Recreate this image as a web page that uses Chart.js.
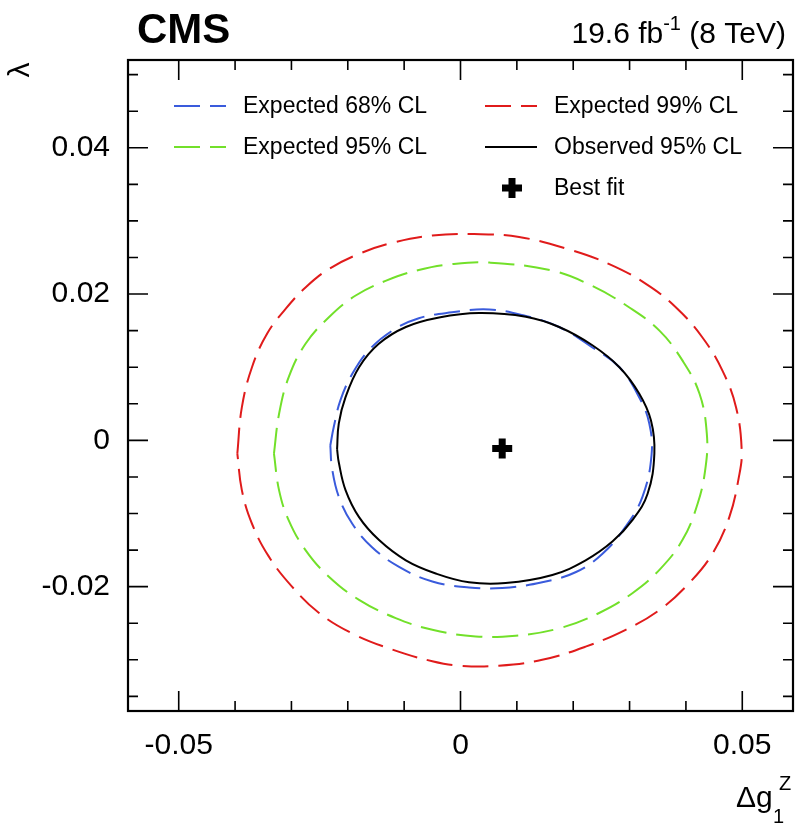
<!DOCTYPE html>
<html>
<head>
<meta charset="utf-8">
<script src="https://cdn.jsdelivr.net/npm/chart.js@4.4.0/dist/chart.umd.min.js"></script>
<style>
  html, body { margin: 0; padding: 0; background: #fff; }
</style>
</head>
<body>
<canvas id="chart" width="796" height="832"></canvas>
<script>
// axis ranges and ticks
const xMin = -0.059, xMax = 0.059;
const yMin = -0.037, yMax = 0.052;
const xMajorTicks = [-0.05, 0, 0.05];
const xMinorTicks = [-0.04, -0.03, -0.02, -0.01, 0.01, 0.02, 0.03, 0.04];
const yMajorTicks = [-0.02, 0, 0.02, 0.04];
const yMinorTicks = [-0.035, -0.03, -0.025, -0.015, -0.01, -0.005, 0.005, 0.01, 0.015,
                     0.025, 0.03, 0.035, 0.045, 0.05];
const xTickLabels = ["-0.05", "0", "0.05"];
const yTickLabels = ["-0.02", "0", "0.02", "0.04"];

// contours: [delta g1Z, lambda]
const expected68 = [
  [-0.0231, -0.0007], [-0.0225, 0.0018], [-0.0213, 0.0055], [-0.0192, 0.0091], [-0.0163, 0.0123],
  [-0.0121, 0.0150], [-0.0074, 0.0167], [-0.0015, 0.0175], [0.0051, 0.0179], [0.0116, 0.0170],
  [0.0175, 0.0155], [0.0234, 0.0127], [0.0282, 0.0100], [0.0317, 0.0059], [0.0335, 0.0023],
  [0.0339, -0.0020], [0.0323, -0.0077], [0.0293, -0.0118], [0.0252, -0.0155],
  [0.0205, -0.0180], [0.0145, -0.0194], [0.0074, -0.0202], [0.0015, -0.0201], [-0.0050, -0.0193],
  [-0.0109, -0.0173], [-0.0157, -0.0146], [-0.0192, -0.0114], [-0.0216, -0.0077], [-0.0228, -0.0038]
];
const expected95 = [
  [-0.0331, -0.0018], [-0.0322, 0.0036], [-0.0305, 0.0086], [-0.0275, 0.0132], [-0.0234, 0.0168],
  [-0.0186, 0.0198], [-0.0133, 0.0218], [-0.0074, 0.0233], [-0.0015, 0.0241], [0.0051, 0.0243],
  [0.0163, 0.0232], [0.0234, 0.0211], [0.0299, 0.0182], [0.0353, 0.0150],
  [0.0394, 0.0109], [0.0424, 0.0064], [0.0437, 0.0010], [0.0435, -0.0036],
  [0.0421, -0.0086], [0.0394, -0.0136], [0.0353, -0.0177], [0.0305, -0.0209], [0.0246, -0.0236],
  [0.0175, -0.0257], [0.0098, -0.0267], [0.0027, -0.0268], [-0.0050, -0.0259], [-0.0115, -0.0243],
  [-0.0180, -0.0218], [-0.0234, -0.0186], [-0.0275, -0.0150], [-0.0305, -0.0109], [-0.0322, -0.0068]
];
const expected99 = [
  [-0.0396, -0.0018], [-0.0388, 0.0045], [-0.0370, 0.0100], [-0.0343, 0.0146], [-0.0310, 0.0180],
  [-0.0275, 0.0209], [-0.0234, 0.0234], [-0.0180, 0.0255], [-0.0121, 0.0270], [-0.0050, 0.0280],
  [0.0024, 0.0282], [0.0104, 0.0278], [0.0193, 0.0261], [0.0264, 0.0241], [0.0329, 0.0214],
  [0.0382, 0.0182], [0.0429, 0.0141], [0.0465, 0.0095], [0.0489, 0.0045], [0.0499, -0.0014],
  [0.0494, -0.0050], [0.0477, -0.0105], [0.0447, -0.0155], [0.0406, -0.0195], [0.0353, -0.0232],
  [0.0293, -0.0259], [0.0222, -0.0282], [0.0145, -0.0300], [0.0068, -0.0308], [-0.0003, -0.0308],
  [-0.0050, -0.0302], [-0.0121, -0.0286], [-0.0192, -0.0264], [-0.0251, -0.0236], [-0.0299, -0.0200],
  [-0.0340, -0.0159], [-0.0370, -0.0114], [-0.0388, -0.0068]
];
const observed95 = [
  [-0.0219, -0.0012], [-0.0216, 0.0023], [-0.0204, 0.0059], [-0.0180, 0.0100], [-0.0145, 0.0132],
  [-0.0097, 0.0155], [-0.0038, 0.0168], [0.0033, 0.0174], [0.0116, 0.0169],
  [0.0175, 0.0155], [0.0234, 0.0130], [0.0282, 0.0100], [0.0317, 0.0064], [0.0338, 0.0027],
  [0.0344, -0.0018], [0.0332, -0.0073], [0.0305, -0.0109], [0.0270, -0.0138],
  [0.0222, -0.0164], [0.0163, -0.0184], [0.0080, -0.0195], [0.0015, -0.0194], [-0.0044, -0.0182],
  [-0.0097, -0.0164], [-0.0145, -0.0136], [-0.0180, -0.0105], [-0.0204, -0.0068], [-0.0216, -0.0030]
];
const bestFit = [[0.0074, -0.0011]];

const FONT = '"Liberation Sans", Arial, Helvetica, sans-serif';
const blue = "#3a5bdc", green = "#72e02a", red = "#e01b1b";
const dash = [26, 10];

const toXY = arr => arr.map(p => ({ x: p[0], y: p[1] }));
const closed = arr => toXY(arr.concat([arr[0]]));

function contour(label, pts, color, dashed, order) {
  return {
    label: label,
    data: closed(pts),
    showLine: true,
    borderColor: color,
    borderWidth: 2,
    borderDash: dashed ? dash : [],
    pointRadius: 0,
    tension: 0.4,
    fill: false,
    order: order
  };
}

// frame with inward ticks, titles, legend
const decorations = {
  id: "decorations",
  afterDraw(chart) {
    const { ctx, chartArea: a, scales: { x, y } } = chart;
    ctx.save();
    ctx.strokeStyle = "#000";
    ctx.lineWidth = 1.6;
    ctx.beginPath();
    const tx = (v, len) => {
      const px = x.getPixelForValue(v);
      ctx.moveTo(px, a.bottom); ctx.lineTo(px, a.bottom - len);
      ctx.moveTo(px, a.top); ctx.lineTo(px, a.top + len);
    };
    const ty = (v, len) => {
      const py = y.getPixelForValue(v);
      ctx.moveTo(a.left, py); ctx.lineTo(a.left + len, py);
      ctx.moveTo(a.right, py); ctx.lineTo(a.right - len, py);
    };
    xMajorTicks.forEach(v => tx(v, 20));
    xMinorTicks.forEach(v => tx(v, 10));
    yMajorTicks.forEach(v => ty(v, 20));
    yMinorTicks.forEach(v => ty(v, 10));
    ctx.stroke();
    ctx.lineWidth = 2.2;
    ctx.strokeRect(a.left, a.top, a.right - a.left, a.bottom - a.top);

    ctx.fillStyle = "#000";
    // CMS label
    ctx.font = "bold 42px " + FONT;
    ctx.textAlign = "left";
    ctx.textBaseline = "alphabetic";
    ctx.fillText("CMS", 137, 43);

    // luminosity label, drawn right to left
    let right = 786;
    ctx.textAlign = "right";
    ctx.font = "30px " + FONT;
    ctx.fillText(" (8 TeV)", right, 43);
    right -= ctx.measureText(" (8 TeV)").width;
    ctx.font = "20px " + FONT;
    ctx.fillText("-1", right, 30);
    right -= ctx.measureText("-1").width;
    ctx.font = "30px " + FONT;
    ctx.fillText("19.6 fb", right, 43);

    // axis titles
    ctx.textAlign = "left";
    ctx.font = "30px " + FONT;
    ctx.fillText("\u0394g", 736, 807);
    ctx.font = "20px " + FONT;
    ctx.fillText("Z", 779, 790);
    ctx.fillText("1", 773, 823);

    ctx.save();
    ctx.translate(21, 70);
    ctx.rotate(-Math.PI / 2);
    ctx.textAlign = "center";
    ctx.textBaseline = "middle";
    ctx.font = "30px " + FONT;
    ctx.fillText("\u03bb", 0, 0);
    ctx.restore();

    // legend
    const items = [
      { text: "Expected 68% CL", color: blue, dashed: true, x: 174, y: 106 },
      { text: "Expected 95% CL", color: green, dashed: true, x: 174, y: 147 },
      { text: "Expected 99% CL", color: red, dashed: true, x: 485, y: 106 },
      { text: "Observed 95% CL", color: "#000", dashed: false, x: 485, y: 147 }
    ];
    ctx.font = "23px " + FONT;
    ctx.textBaseline = "middle";
    items.forEach(it => {
      ctx.strokeStyle = it.color;
      ctx.lineWidth = 2;
      ctx.setLineDash(it.dashed ? dash : []);
      ctx.beginPath();
      ctx.moveTo(it.x, it.y);
      ctx.lineTo(it.x + 52, it.y);
      ctx.stroke();
      ctx.fillText(it.text, it.x + 69, it.y + 1);
    });
    ctx.setLineDash([]);
    ctx.strokeStyle = "#000";
    ctx.lineWidth = 7;
    ctx.beginPath();
    ctx.moveTo(502, 188); ctx.lineTo(522, 188);
    ctx.moveTo(512, 178); ctx.lineTo(512, 198);
    ctx.stroke();
    ctx.fillText("Best fit", 554, 189);
    ctx.restore();
  }
};

new Chart(document.getElementById("chart").getContext("2d"), {
  type: "scatter",
  data: {
    datasets: [
      {
        label: "Best fit",
        data: toXY(bestFit),
        pointStyle: "cross",
        pointRadius: 10,
        pointHoverRadius: 10,
        pointBorderWidth: 7,
        pointBorderColor: "#000",
        pointBackgroundColor: "#000",
        showLine: false,
        order: 0
      },
      contour("Observed 95% CL", observed95, "#000", false, 1),
      contour("Expected 68% CL", expected68, blue, true, 2),
      contour("Expected 95% CL", expected95, green, true, 3),
      contour("Expected 99% CL", expected99, red, true, 4)
    ]
  },
  options: {
    responsive: false,
    animation: false,
    devicePixelRatio: 1,
    layout: { autoPadding: false, padding: { top: 60, right: 3, left: 0, bottom: 0 } },
    plugins: { legend: { display: false }, tooltip: { enabled: false } },
    scales: {
      x: {
        type: "linear",
        min: xMin,
        max: xMax,
        grid: { display: false, drawTicks: false },
        border: { display: false },
        afterBuildTicks: s => { s.ticks = xMajorTicks.map(v => ({ value: v })); },
        afterFit: s => { s.height = 121; },
        ticks: {
          autoSkip: false,
          maxRotation: 0,
          padding: 17,
          color: "#000",
          font: { family: FONT, size: 30 },
          callback: (v) => xTickLabels[xMajorTicks.indexOf(v)]
        }
      },
      y: {
        type: "linear",
        min: yMin,
        max: yMax,
        grid: { display: false, drawTicks: false },
        border: { display: false },
        afterBuildTicks: s => { s.ticks = yMajorTicks.map(v => ({ value: v })); },
        afterFit: s => { s.width = 128; },
        ticks: {
          autoSkip: false,
          padding: 18,
          color: "#000",
          font: { family: FONT, size: 30 },
          callback: (v) => yTickLabels[yMajorTicks.indexOf(v)]
        }
      }
    }
  },
  plugins: [decorations]
});
</script>
</body>
</html>
